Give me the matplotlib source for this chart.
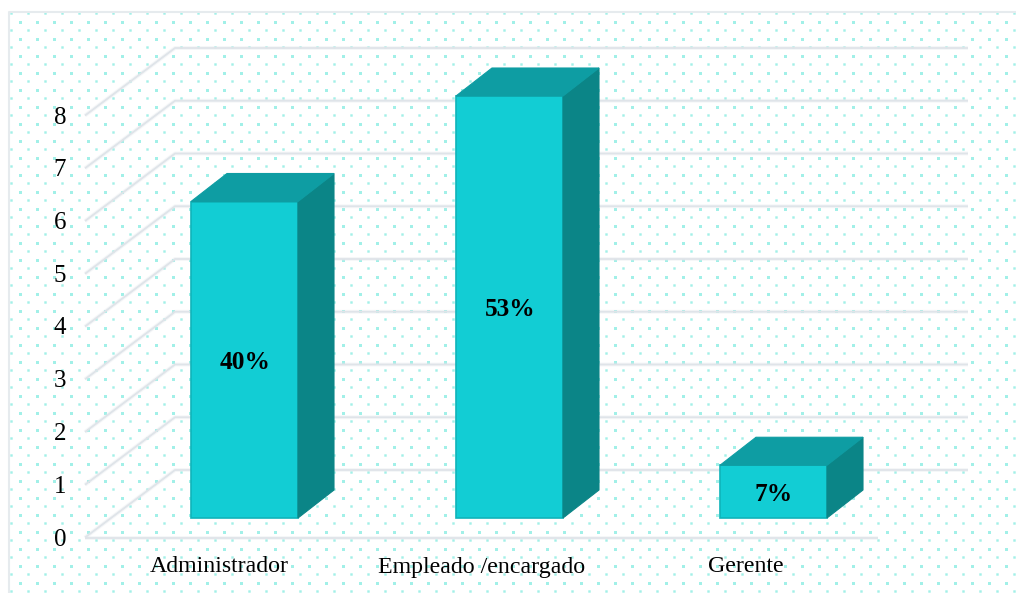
#!/usr/bin/env python3
# -*- coding: utf-8 -*-
"""Fake-3D column chart with dotted background."""

import numpy as np
import matplotlib
matplotlib.use("Agg")
import matplotlib.pyplot as plt
from matplotlib.patches import Polygon

categories = ["Administrador", "Empleado /encargado", "Gerente"]
values = [6, 8, 1]
labels = ["40%", "53%", "7%"]
y_ticks = [0, 1, 2, 3, 4, 5, 6, 7, 8]

W, H = 1016, 593
# pixel geometry of the fake 3D box
X0, X1 = 85, 878          # front floor edge
Y0 = 537.5                # value 0 on the front edge
UNIT = 52.75              # pixels per value
DEPTH = (90, -67.5)       # floor depth
BAR_BASE = 518            # bar front bottom
BAR_LEFT = [191, 456, 720]
BAR_W = 107
BAR_D = (36, -28)
CAT_X = [219, 482, 746]   # category labels are not centred on the bars

FACE = "#12cdd4"
SIDE = "#0b8587"
TOP = "#0e9da3"
EDGE = "#0fb4ba"
GRID = "#dfe4e9"
DOT = "#a2f0e8"

plt.rcParams["font.family"] = ["Liberation Serif", "DejaVu Serif"]


def front_y(v):
    return Y0 - v * UNIT


def soft_line(ax, xs, ys):
    # blurry look: wide faint line under a thinner one
    ax.plot(xs, ys, color=GRID, lw=2.8, alpha=0.3, solid_capstyle="butt", zorder=2)
    ax.plot(xs, ys, color=GRID, lw=1.3, solid_capstyle="butt", zorder=2)


def draw_background(ax):
    # integer step on pixel centres, no snapping, so every dot comes out the same
    xa = np.arange(19.5, W, 17)
    ya = np.arange(21.5, H, 17)
    xb = np.arange(10.5, W, 17)
    yb = np.arange(12.5, H, 17)
    gx, gy = np.meshgrid(xa, ya)
    big = ax.scatter(gx.ravel(), gy.ravel(), s=4.67, marker="s", color=DOT, lw=0, zorder=1)
    big.set_snap(False)
    gx, gy = np.meshgrid(xb, yb)
    small = ax.scatter(gx.ravel(), gy.ravel(), s=3.0, marker="s", color=DOT, lw=0, zorder=1)
    small.set_snap(False)
    # frame: only top and left
    ax.plot([W, 9, 9], [11.5, 11.5, H], color="#e6ebee", lw=1.5, zorder=1)


def draw_grid(ax):
    soft_line(ax, [X0, X1], [Y0, Y0])
    for v in y_ticks:
        fy = front_y(v)
        bx, by = X0 + DEPTH[0], fy + DEPTH[1]
        soft_line(ax, [X0, bx, 968], [fy, by, by])
        ax.text(60, fy + 2, str(v), fontsize=18, ha="center", va="center", zorder=5)


def draw_bar(ax, left, v, label, cat, cat_x):
    right = left + BAR_W
    top = BAR_BASE - v * UNIT
    dx, dy = BAR_D
    face = [(left, BAR_BASE), (right, BAR_BASE), (right, top), (left, top)]
    side = [(right, BAR_BASE), (right + dx, BAR_BASE + dy), (right + dx, top + dy), (right, top)]
    lid = [(left, top), (right, top), (right + dx, top + dy), (left + dx, top + dy)]
    ax.add_patch(Polygon(face, fc=FACE, ec=EDGE, lw=1.2, zorder=3))
    ax.add_patch(Polygon(side, fc=SIDE, ec=SIDE, lw=0.8, zorder=3))
    ax.add_patch(Polygon(lid, fc=TOP, ec=TOP, lw=0.8, zorder=3))
    ax.text(left + BAR_W / 2 + 0.5, (BAR_BASE + top) / 2 + 3, label, fontsize=18.3,
            fontweight="bold", ha="center", va="center", zorder=5)
    ax.text(cat_x, 567, cat, fontsize=17.2, ha="center", va="center", zorder=5)


def main():
    fig = plt.figure(figsize=(W / 100, H / 100), dpi=100)
    ax = fig.add_axes([0, 0, 1, 1])
    ax.set_xlim(0, W)
    ax.set_ylim(H, 0)
    ax.axis("off")

    draw_background(ax)
    draw_grid(ax)
    for left, v, label, cat, cat_x in zip(BAR_LEFT, values, labels, categories, CAT_X):
        draw_bar(ax, left, v, label, cat, cat_x)

    fig.savefig("out.png", dpi=100, facecolor="white")


if __name__ == "__main__":
    main()
